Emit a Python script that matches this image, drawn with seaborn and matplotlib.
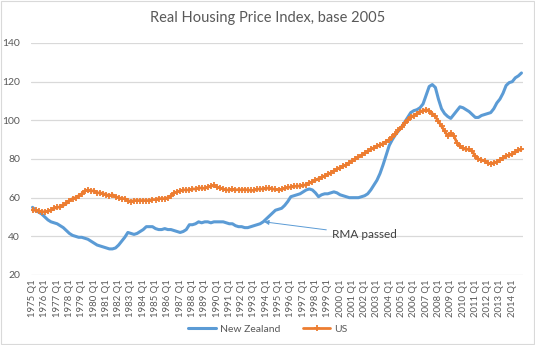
import numpy as np
import pandas as pd
import matplotlib
matplotlib.use("Agg")
import matplotlib.pyplot as plt
import seaborn as sns

years = list(range(1975, 2015))
quarters = [f"{y} Q{q}" for y in years for q in range(1, 5)]
tick_labels = [f"{y} Q1" for y in years]

nz = [
    55, 53.5, 52.5, 51.5,      # 1975
    50, 48.5, 47.5, 47,        # 1976
    46.5, 45.5, 44.5, 43,      # 1977
    41.5, 40.5, 40, 39.5,      # 1978
    39.5, 39, 38.5, 37.5,      # 1979
    36.5, 35.5, 35, 34.5,      # 1980
    34, 33.5, 33.5, 34,        # 1981
    35.5, 37.5, 39.5, 42,      # 1982
    41.5, 41, 41.5, 42.5,      # 1983
    43.5, 45, 45, 45,          # 1984
    44, 43.5, 43.5, 44,        # 1985
    43.5, 43.5, 43, 42.5,      # 1986
    42, 42.5, 43.5, 46,        # 1987
    46, 46.5, 47.5, 47,        # 1988
    47.5, 47.5, 47, 47.5,      # 1989
    47.5, 47.5, 47.5, 47,      # 1990
    46.5, 46.5, 45.5, 45,      # 1991
    45, 44.5, 44.5, 45,        # 1992
    45.5, 46, 46.5, 47.5,      # 1993
    49, 50.5, 52, 53.5,        # 1994
    54, 54.5, 56, 58,          # 1995
    60.5, 61, 61.5, 62,        # 1996
    63, 64, 64.5, 64,          # 1997
    62.5, 60.5, 61.5, 62,      # 1998
    62, 62.5, 63, 62.5,        # 1999
    61.5, 61, 60.5, 60,        # 2000
    60, 60, 60, 60.5,          # 2001
    61, 62, 64, 66.5,          # 2002
    69, 72.5, 77, 82,          # 2003
    87, 90, 92.5, 94.5,        # 2004
    96.5, 99, 101.5, 104,      # 2005
    105, 105.5, 106.5, 108.5,  # 2006
    113, 117.5, 118.5, 117,    # 2007
    111, 106, 103.5, 102,      # 2008
    101, 103, 105, 107,        # 2009
    106.5, 105.5, 104.5, 103,  # 2010
    101.5, 101.5, 102.5, 103,  # 2011
    103.5, 104, 106, 109,      # 2012
    111, 114, 118, 119.5,      # 2013
    120, 122, 123, 124.5,      # 2014
]

us = [
    53.6, 53.5, 53, 52.8,      # 1975
    52.6, 53, 53.5, 54.5,      # 1976
    55, 55.2, 56, 57,          # 1977
    58.5, 59.5, 60, 61,        # 1978
    62, 63.5, 64, 63.5,        # 1979
    63.5, 62.5, 62.5, 62,      # 1980
    61.5, 61, 61.5, 60.5,      # 1981
    60, 59.5, 59.5, 58.5,      # 1982
    58, 58.5, 58.5, 58.5,      # 1983
    58.5, 58.5, 58.5, 59,      # 1984
    59, 59.5, 59.5, 59.5,      # 1985
    60, 61, 62.5, 63,          # 1986
    63.5, 64, 64, 64,          # 1987
    64.5, 64.5, 65, 65,        # 1988
    64.8, 65.5, 66, 66.3,      # 1989
    65.5, 65, 64.5, 64,        # 1990
    64, 64.3, 64, 64.2,        # 1991
    64, 64.2, 64, 63.8,        # 1992
    63.8, 64.3, 64.5, 64.5,    # 1993
    64.8, 65, 64.5, 64.3,      # 1994
    64, 64.3, 64.8, 65.3,      # 1995
    65.5, 65.8, 66, 66,        # 1996
    66.3, 66.8, 67.5, 68.3,    # 1997
    69, 69.8, 70.5, 71.3,      # 1998
    72, 72.8, 73.8, 74.8,      # 1999
    75.5, 76.3, 77, 78,        # 2000
    79, 80, 81, 82,            # 2001
    83, 84, 85, 85.8,          # 2002
    86.5, 87.3, 88, 89,        # 2003
    90, 91.5, 93, 94.8,        # 2004
    96.5, 98.5, 100, 101.5,    # 2005
    102.5, 103.5, 104.5, 105,  # 2006
    105.5, 105, 103.5, 102,    # 2007
    99.5, 97, 94.5, 92,        # 2008
    93.5, 92, 88.5, 86.5,      # 2009
    85.5, 85, 85, 84,          # 2010
    81.5, 80, 79.5, 79,        # 2011
    78, 77.5, 78, 78.5,        # 2012
    79.5, 80.5, 81.5, 82,      # 2013
    82.5, 83.5, 84.5, 85,      # 2014
]

series_names = ["New Zealand", "US"]
title = "Real Housing Price Index, base 2005"
annotation_text = "RMA passed"
annotation_index = quarters.index("1993 Q4")
annotation_value = 47.5

df = pd.DataFrame({"idx": np.arange(len(quarters)), "quarter": quarters,
                   "New Zealand": nz, "US": us})

sns.set_theme(style="white")
plt.rcParams['font.family'] = ['Lato', 'DejaVu Sans']

fig = plt.figure(figsize=(5.35, 3.45), dpi=100)
ax = fig.add_axes([31/535, 1-275/345, (523-31)/535, (275-43)/345])

blue = "#5B9BD5"
orange = "#ED7D31"
sns.lineplot(data=df, x="idx", y="New Zealand", ax=ax, color=blue, lw=2.2,
             label="New Zealand")
sns.lineplot(data=df, x="idx", y="US", ax=ax, color=orange, lw=2.0,
             marker="+", markersize=4.5, markeredgewidth=1.3,
             markeredgecolor=orange, label="US")

ax.set_ylim(20, 140)
ax.set_yticks(range(20, 141, 20))
ax.set_xlim(-0.5, len(quarters) - 0.5)
ax.set_xticks(range(0, len(quarters), 4))
ax.set_xticklabels(tick_labels, rotation=90, fontsize=6.8, color="#595959")
ax.tick_params(axis="y", labelsize=7.5, colors="#595959", length=0, pad=8)
ax.tick_params(axis="x", length=0, pad=3)
ax.set_xlabel("")
ax.set_ylabel("")
ax.grid(axis="y", color="#d9d9d9", lw=0.9)
ax.grid(axis="x", visible=False)
for s in ax.spines.values():
    s.set_visible(False)

ax.annotate(annotation_text, xy=(annotation_index + 0.3, annotation_value),
            xytext=(97.5, 40.8), textcoords="data",
            fontsize=8.5, color="#404040", va="center", ha="left",
            arrowprops=dict(arrowstyle="-|>", color=blue, lw=0.7,
                            shrinkA=2, shrinkB=0, mutation_scale=7))

fig.text(0.5, 1 - 18/345, title, ha="center", va="center", fontsize=10.5,
         color="#595959")

ax.legend_.remove()
handles, labels = ax.get_legend_handles_labels()
fig.legend(handles, labels, loc="center", bbox_to_anchor=(268/535, 1 - 329/345),
           ncol=2, frameon=False, fontsize=7.5, labelcolor="#595959",
           handlelength=2.6, columnspacing=2.2, handletextpad=0.4)

fig.add_artist(plt.Rectangle((0.002, 0.003), 0.996, 0.994, transform=fig.transFigure,
                             fill=False, edgecolor="#d9d9d9", lw=0.8))

fig.savefig("out.png", dpi=100, facecolor="white")
